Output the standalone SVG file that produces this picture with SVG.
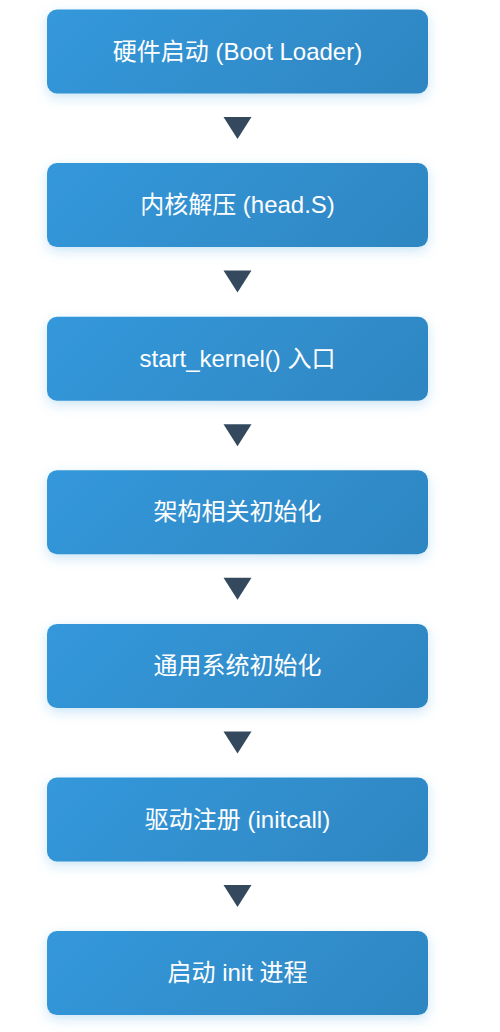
<svg xmlns="http://www.w3.org/2000/svg" width="500" height="1032" viewBox="0 0 500 1032">
<defs>
<linearGradient id="g" x1="0" y1="0" x2="1.164" y2="0.257">
<stop offset="0" stop-color="#3498db"/>
<stop offset="1" stop-color="#2e86c1"/>
</linearGradient>
<filter id="sh" x="-20%" y="-40%" width="140%" height="180%">
<feDropShadow dx="0" dy="4" stdDeviation="6" flood-color="#3498db" flood-opacity="0.25"/>
</filter>
<style>
.box{fill:url(#g);filter:url(#sh);}
.lbl{fill:#ffffff;font-family:"Liberation Sans","Noto Sans CJK SC",sans-serif;font-size:24px;text-anchor:middle;}
.arr{fill:#34495e;}
</style>
</defs>
<rect width="500" height="1032" fill="#ffffff"/>
<g id="connectors">
<polygon class="arr" points="223.5,117 251.5,117 237.5,139"/>
<polygon class="arr" points="223.5,270.6 251.5,270.6 237.5,292.6"/>
<polygon class="arr" points="223.5,424.2 251.5,424.2 237.5,446.2"/>
<polygon class="arr" points="223.5,577.8 251.5,577.8 237.5,599.8"/>
<polygon class="arr" points="223.5,731.4 251.5,731.4 237.5,753.4"/>
<polygon class="arr" points="223.5,885 251.5,885 237.5,907"/>
</g>
<g id="n1"><rect class="box" x="47" y="9.5" width="381" height="84" rx="10"/><text class="lbl" x="237.5" y="59.5">硬件启动 (Boot Loader)</text></g>
<g id="n2"><rect class="box" x="47" y="163.1" width="381" height="84" rx="10"/><text class="lbl" x="237.5" y="213.1">内核解压 (head.S)</text></g>
<g id="n3"><rect class="box" x="47" y="316.7" width="381" height="84" rx="10"/><text class="lbl" x="237.5" y="366.7">start_kernel() 入口</text></g>
<g id="n4"><rect class="box" x="47" y="470.3" width="381" height="84" rx="10"/><text class="lbl" x="237.5" y="520.3">架构相关初始化</text></g>
<g id="n5"><rect class="box" x="47" y="623.9" width="381" height="84" rx="10"/><text class="lbl" x="237.5" y="673.9">通用系统初始化</text></g>
<g id="n6"><rect class="box" x="47" y="777.5" width="381" height="84" rx="10"/><text class="lbl" x="237.5" y="827.5">驱动注册 (initcall)</text></g>
<g id="n7"><rect class="box" x="47" y="931.1" width="381" height="84" rx="10"/><text class="lbl" x="237.5" y="981.1">启动 init 进程</text></g>
</svg>
